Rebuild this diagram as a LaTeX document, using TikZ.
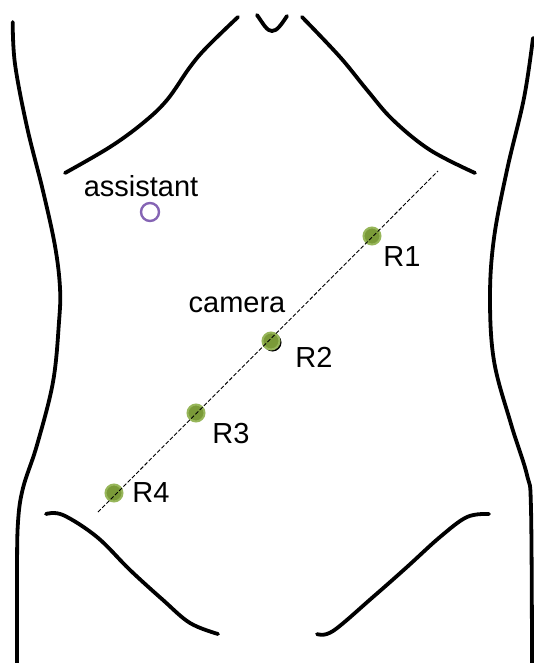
\documentclass[tikz,border=0pt]{standalone}
\usepackage{fontspec}
\setmainfont{Liberation Sans}
\begin{document}
\begin{tikzpicture}[x=1pt,y=-1pt,
  contour/.style={line width=3.8pt,line cap=round,line join=round},
  port/.style={circle,minimum size=17pt,inner sep=0pt,fill=portfill,draw=portring,line width=2pt},
  lbl/.style={font=\fontsize{29}{33}\selectfont,inner sep=0pt}]
\definecolor{portfill}{HTML}{7A9A38}
\definecolor{portring}{HTML}{97B65A}
\definecolor{assist}{HTML}{8564B4}
\useasboundingbox (0,0) rectangle (534,663);

% body outline
\draw[contour] plot[smooth,tension=0.6] coordinates {(12.7,22) (15,64) (27,127) (43,191) (55,246) (60,288) (59,322) (53,382) (37,445) (23,488) (18,522) (17,573) (17,663)};
\draw[contour] plot[smooth,tension=0.6] coordinates {(533,38) (524,98) (507,170) (494,238) (490,297) (494,361) (511,424) (527,475) (531,509) (532,663)};

% neck notch
\draw[contour] (257,15) .. controls (264,25) and (267,31) .. (272,31) .. controls (277,31) and (281,25) .. (287,16);

% rib margins
\draw[contour] plot[smooth,tension=0.6] coordinates {(238,17) (207,47) (190,67) (167,100) (143,123) (110,147) (65,173)};
\draw[contour] plot[smooth,tension=0.6] coordinates {(302,17) (340,57) (367,90) (393,120) (430,150) (475,173)};

% groin lines
\draw[contour] plot[smooth,tension=0.6] coordinates {(46,514) (63,515) (97,537) (130,570) (163,600) (190,623) (218,634)};
\draw[contour] plot[smooth,tension=0.6] coordinates {(317,634) (333,631) (373,597) (407,567) (440,537) (467,517) (489,514)};

% assistant port
\node[circle,minimum size=18pt,inner sep=0pt,draw=assist,line width=2.4pt] (asst) at (150,212) {};
\node[lbl] (asstlbl) at (141,186) {assistant};

% robotic ports
\fill[black] (272.5,342.5) circle (9pt);
\node[port] (r1) at (372,236) {};
\node[port] (r2) at (271,341) {};
\node[port] (r3) at (196,413) {};
\node[port] (r4) at (114,493) {};

% port line
\coordinate (lineA) at (98,512);
\coordinate (lineB) at (438,171);
\draw[dashed,line width=0.9pt,dash pattern=on 4pt off 2pt] (lineA) -- (lineB);

\node[lbl] (l1) at (402,257) {R1};
\node[lbl] (l2) at (314,357) {R2};
\node[lbl] (l3) at (231,434) {R3};
\node[lbl] (l4) at (151,493) {R4};
\node[lbl] (cam) at (237,305) {camera};
\end{tikzpicture}
\end{document}
